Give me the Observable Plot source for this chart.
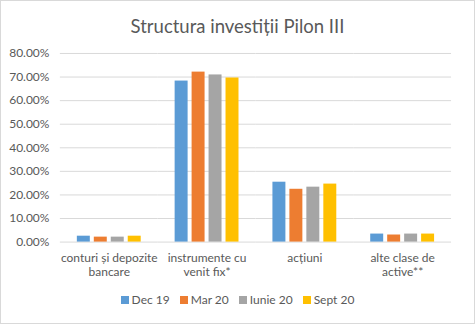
<!DOCTYPE html>
<html>
<head>
<meta charset="utf-8">
<script src="https://cdn.jsdelivr.net/npm/d3@7"></script>
<script src="https://cdn.jsdelivr.net/npm/@observablehq/plot@0.6"></script>
<style>
  html, body { margin: 0; padding: 0; background: #fff; }
  #chart { position: relative; box-sizing: border-box; width: 475px; height: 324px; border: 1px solid #D9D9D9; overflow: hidden; font-family: Lato, "Liberation Sans", sans-serif; color: #595959; }
  #title { position: absolute; left: -1px; top: 14px; width: 475px; text-align: center; font-size: 18.5px; color: #595959; }
  #plot { position: absolute; left: -1px; top: 44px; }
  #legend { position: absolute; left: -1px; top: 291px; width: 475px; text-align: center; font-size: 12px; color: #595959; }
  .item { display: inline-block; margin: 0 5px; }
  .sw { display: inline-block; width: 8px; height: 8px; margin-right: 3px; vertical-align: 0px; }
</style>
</head>
<body>
<div id="chart">
  <div id="title">Structura investiții Pilon III</div>
  <div id="plot"></div>
  <div id="legend"></div>
</div>
<script>
const categories = ["conturi și depozite bancare", "instrumente cu venit fix*", "acțiuni", "alte clase de active**"];
const categoryLabels = ["conturi și depozite\nbancare", "instrumente cu\nvenit fix*", "acțiuni", "alte clase de\nactive**"];
const series = ["Dec 19", "Mar 20", "Iunie 20", "Sept 20"];
const colors = ["#5B9BD5", "#ED7D31", "#A5A5A5", "#FFC000"];
const dec19 = [0.025, 0.683, 0.254, 0.034];
const mar20 = [0.021, 0.721, 0.224, 0.030];
const iunie20 = [0.021, 0.709, 0.233, 0.034];
const sept20 = [0.025, 0.696, 0.246, 0.034];
const yTicks = [0, 0.1, 0.2, 0.3, 0.4, 0.5, 0.6, 0.7, 0.8];

const valuesBySeries = [dec19, mar20, iunie20, sept20];
const rows = [];
categories.forEach((c, i) => {
  series.forEach((s, j) => rows.push({category: c, series: s, value: valuesBySeries[j][i]}));
});
const labelOf = new Map(categories.map((c, i) => [c, categoryLabels[i]]));

const chart = Plot.plot({
  width: 475,
  height: 237,
  marginTop: 8,
  marginLeft: 58,
  marginRight: 22,
  marginBottom: 40,
  style: { fontFamily: "Lato, 'Liberation Sans', sans-serif", fontSize: "12px", color: "#595959", background: "transparent" },
  fx: { domain: categories, padding: 0, label: null },
  x: { domain: series, paddingInner: 0.222, paddingOuter: 0.854, axis: null },
  y: { domain: [0, 0.8], label: null },
  color: { domain: series, range: colors },
  marks: [
    Plot.gridY(yTicks, { stroke: "#D9D9D9", strokeOpacity: 1, strokeWidth: 1 }),
    Plot.axisY(yTicks, { tickFormat: d3.format(".2%"), tickSize: 0, tickPadding: 11, label: null, fill: "#595959" }),
    Plot.axisFx({ anchor: "bottom", tickSize: 0, tickPadding: 10, label: null, tickFormat: d => labelOf.get(d), lineHeight: 1.17, fill: "#595959" }),
    Plot.barY(rows, { fx: "category", x: "series", y: "value", fill: "series" })
  ]
});
document.getElementById("plot").appendChild(chart);

const legend = document.getElementById("legend");
series.forEach((s, j) => {
  const item = document.createElement("span");
  item.className = "item";
  const sw = document.createElement("span");
  sw.className = "sw";
  sw.style.background = colors[j];
  item.appendChild(sw);
  item.appendChild(document.createTextNode(s));
  legend.appendChild(item);
});
</script>
</body>
</html>
